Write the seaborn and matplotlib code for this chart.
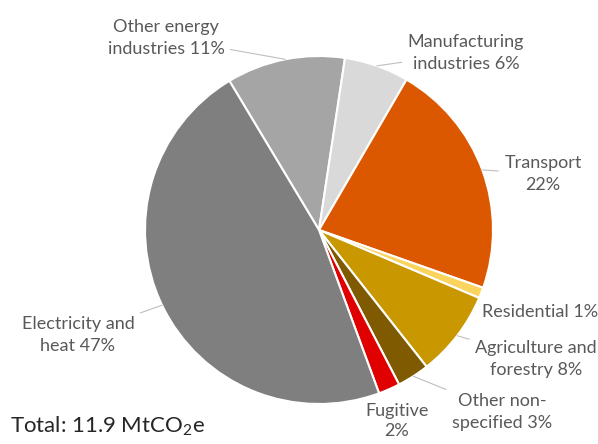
import numpy as np
import pandas as pd
import seaborn as sns
import matplotlib.pyplot as plt

sns.set_theme(style="white")
plt.rcParams['font.family'] = ['Lato', 'DejaVu Sans']
plt.rcParams['mathtext.fontset'] = 'custom'
plt.rcParams['mathtext.rm'] = 'Lato'
plt.rcParams['mathtext.default'] = 'regular'

# data (clockwise from the top)
sectors = ['Other energy\nindustries', 'Manufacturing\nindustries', 'Transport', 'Residential',
           'Agriculture and\nforestry', 'Other non-\nspecified', 'Fugitive', 'Electricity and\nheat']
shares = [11, 6, 22, 1, 8, 3, 2, 47]
label_text = ['Other energy\nindustries 11%', 'Manufacturing\nindustries 6%', 'Transport\n22%',
              'Residential 1%', 'Agriculture and\nforestry 8%', 'Other non-\nspecified 3%',
              'Fugitive\n2%', 'Electricity and\nheat 47%']
colours = ['#a5a5a5', '#d9d9d9', '#dc5800', '#fbd45e', '#c99700', '#7f5a00', '#e00000', '#7f7f7f']
total = 'Total: 11.9 MtCO$_2$e'

df = pd.DataFrame({'sector': sectors, 'share': shares, 'label': label_text, 'colour': colours})

W, H = 598, 444
fig = plt.figure(figsize=(W / 100, H / 100), dpi=100)
ax = fig.add_axes([145 / W, 1 - 404 / H, 348 / W, 348 / H])

wedges, _ = ax.pie(df['share'], colors=df['colour'], startangle=121, counterclock=False,
                   wedgeprops=dict(edgecolor='white', linewidth=1.5))
ax.set_xlim(-1, 1)
ax.set_ylim(-1, 1)
ax.set_aspect('equal')
ax.axis('off')

# label centres in pixels (from top-left) and whether a leader line is drawn
lab_pos = [(166, 38), (466, 53), (543, 174), (540, 312), (536, 359), (502, 412), (397, 421), (78, 335)]
leader = [True, True, True, False, True, True, False, True]
spacing = [1.5, 1.5, 1.5, 1.5, 1.5, 1.5, 1.3, 1.5]

for w, txt, (px, py), ld, ls in zip(wedges, df['label'], lab_pos, leader, spacing):
    mid = np.deg2rad((w.theta1 + w.theta2) / 2)
    xy = (np.cos(mid), np.sin(mid))
    ap = dict(arrowstyle='-', color='#bfbfbf', lw=0.8, shrinkA=2, shrinkB=0) if ld else None
    ax.annotate(txt, xy=xy, xycoords='data', xytext=(px / W, 1 - py / H),
                textcoords='figure fraction', ha='center', va='center',
                fontsize=13, color='#595959', linespacing=ls, arrowprops=ap)

fig.text(10 / W, 1 - 433 / H, total, fontsize=16, color='#262626', ha='left', va='baseline')

fig.savefig('out.png', dpi=100)
